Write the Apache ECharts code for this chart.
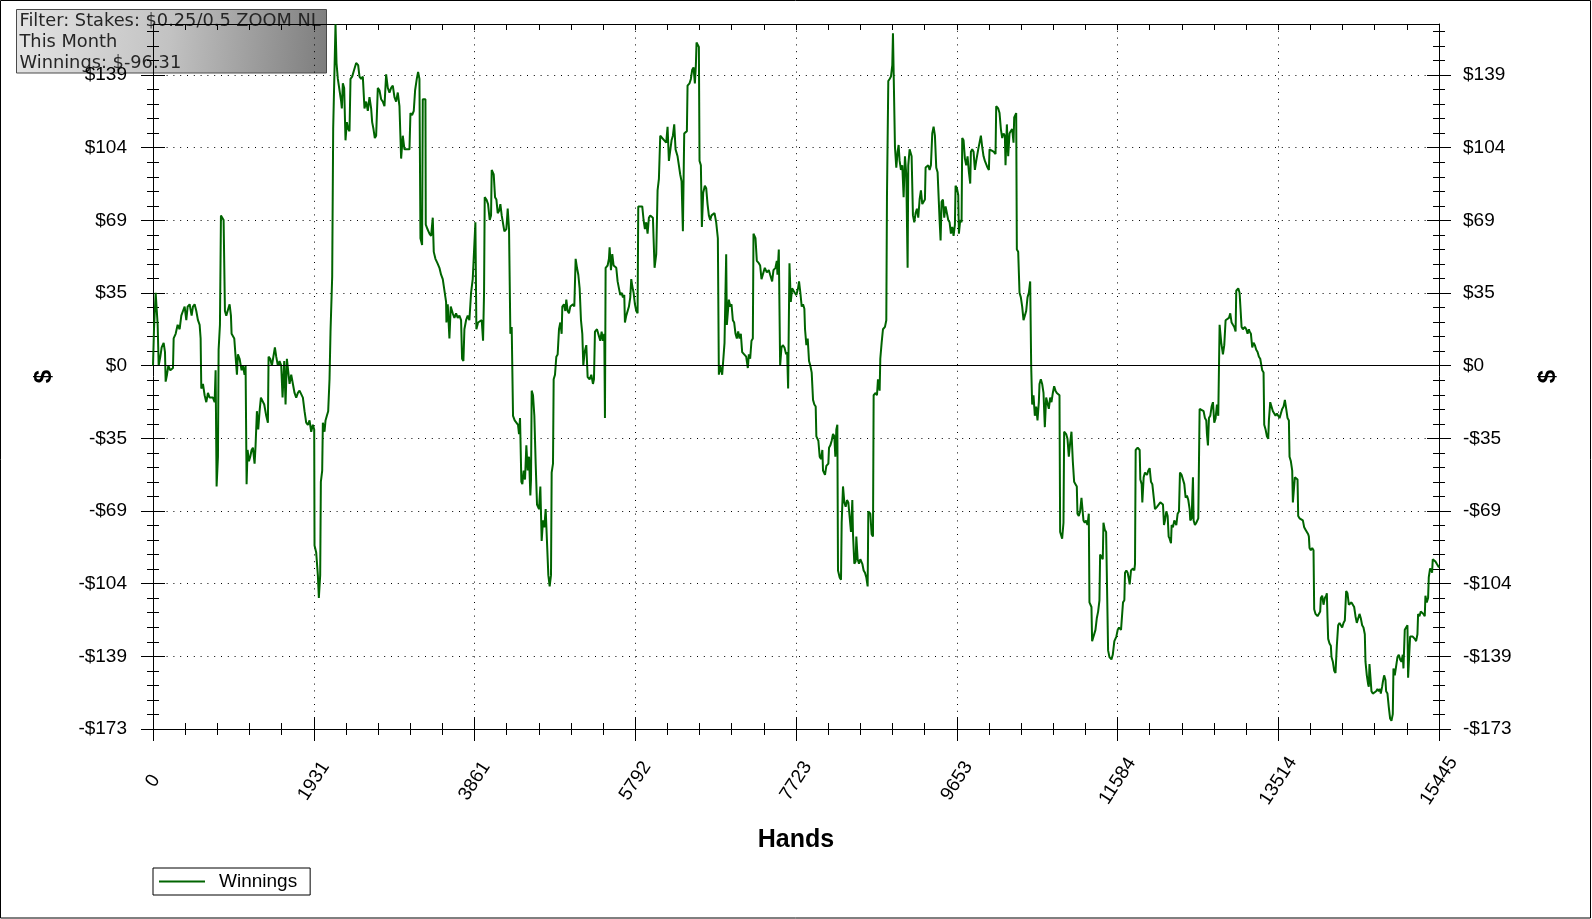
<!DOCTYPE html>
<html><head><meta charset="utf-8">
<script src="https://cdn.jsdelivr.net/npm/echarts@6/dist/echarts.min.js"></script>
<style>html,body{margin:0;padding:0;background:#fff}#c{width:1592px;height:919px}</style>
</head><body><div id="c"></div>
<script>
// Hands played (x) and cumulative winnings in $ (y)
const hands = [
0,12,32,48,56,68,88,104,128,144,
152,168,184,208,240,248,272,296,320,340,
360,380,400,416,440,464,480,500,520,540,
560,572,580,600,620,640,660,680,720,740,
752,764,780,788,804,816,832,848,864,880,
904,920,936,944,960,976,992,1008,1020,1040,
1064,1080,1100,1112,1124,1136,1152,1168,1184,1200,
1220,1232,1248,1264,1280,1296,1320,1336,1360,1380,
1388,1408,1428,1448,1464,1480,1500,1520,1540,1556,
1576,1592,1608,1624,1640,1660,1680,1700,1720,1740,
1760,1780,1800,1820,1840,1860,1880,1900,1920,1936,
1940,1960,1980,1992,2008,2016,2032,2040,2060,2072,
2088,2104,2120,2132,2152,2164,2184,2192,2204,2220,
2240,2260,2268,2280,2296,2312,2328,2344,2360,2372,
2392,2416,2440,2464,2480,2500,2520,2540,2560,2580,
2600,2620,2632,2648,2664,2680,2700,2720,2740,2760,
2780,2800,2820,2840,2860,2880,2900,2920,2940,2960,
2980,3000,3020,3040,3080,3092,3112,3132,3148,3168,
3184,3200,3212,3232,3240,3272,3276,3296,3320,3340,
3360,3372,3392,3416,3440,3460,3480,3500,3520,3524,
3540,3560,3576,3600,3620,3640,3660,3680,3700,3712,
3728,3740,3760,3780,3800,3820,3840,
3872,3884,3904,3924,3948,3964,3976,3984,4004,4024,
4044,4060,4068,4092,4108,4124,4140,4156,4172,4188,
4204,4220,4244,4260,4276,4292,4308,4324,4344,4364,
4384,4396,4408,4424,4436,4452,4468,4484,4500,4516,
4532,4540,4548,4564,4580,4596,4612,4636,4652,4668,
4684,4700,4716,4732,4748,4764,4780,4788,4804,4812,
4828,4844,4860,4876,4892,4908,4916,4936,4952,4964,
4980,4996,5012,5028,5044,5060,5076,5092,5108,5124,
5140,5156,5168,5184,5204,5220,5244,5264,5284,5296,
5308,5332,5356,5372,5388,5404,5420,5428,5436,5460,
5476,5484,5500,5516,5532,5548,5564,5580,5596,5612,
5628,5644,5660,5668,5684,5700,5716,5732,5744,5756,
5772,5788,5804,5820,5828,5852,5876,5892,5908,5924,
5940,5956,5972,6004,6012,6024,6044,6060,6076,6092,
6116,6140,6164,6180,6196,6212,6228,6244,6260,6276,
6300,6316,6332,6348,6364,6380,6412,6420,6444,6460,
6476,6492,6508,6520,6528,6556,6564,6580,6592,6608,
6628,6644,6660,6676,6692,6708,6724,6744,6764,6784,
6796,6812,6836,6852,6864,6884,6892,6916,6932,6948,
6964,6980,6996,7012,7028,7044,7060,7076,7100,7124,
7144,7156,7172,7188,7204,7212,7236,7252,7276,7292,
7308,7332,7348,7372,7396,7412,7436,7452,7476,7492,
7500,7516,7532,7548,7564,7584,7604,7616,7628,7644,
7660,7676,
7707,7727,7747,7759,7775,7791,7807,7823,7831,7847,
7863,7879,7895,7911,7927,7943,7959,7967,7991,8007,
8023,8039,8047,8071,8087,8111,8119,8135,8151,8167,
8183,8195,8207,8219,8227,8247,8263,8271,8287,8303,
8319,8335,8351,8367,8383,8399,8407,8423,8439,8447,
8463,8479,8495,8519,8535,8551,8567,8583,8591,8615,
8631,8647,8655,8679,8695,8707,8727,8735,8751,8767,
8791,8807,8815,8831,8847,8863,8879,8887,8899,8911,
8927,8943,8955,8967,8983,8999,9015,9031,9047,9063,
9071,9087,9111,9127,9143,9159,9175,9191,9207,9223,
9239,9255,9271,9279,9295,9311,9327,9343,9359,9375,
9391,9407,9423,9439,9447,9459,9471,9487,9503,9519,
9535,9551,9567,9583,9599,9615,9631,9639,9655,9671,
9679,9695,9711,9719,9735,9751,9767,9783,9799,9815,
9823,9839,9855,9871,9887,9911,9927,9943,9959,9975,
9991,10007,10023,10039,10047,10071,10095,10119,10127,10151,
10167,10183,10199,10215,10231,10239,10255,10271,10287,10303,
10319,10335,10343,10367,10375,10391,10407,10423,10439,10455,
10471,10487,10503,10519,10535,10547,10559,10575,10591,10607,
10623,10639,10647,10663,10679,10695,10711,10727,10743,10759,
10775,10791,10807,10823,10839,10855,10871,10887,10895,10919,
10935,10943,10967,10983,10999,11015,11031,11047,11063,11079,
11095,11103,11119,11135,11151,11167,11175,11191,11207,11223,
11239,11247,11271,11279,11303,11319,11335,11351,11367,11375,
11391,11407,11415,11431,11447,11463,11471,11487,11511,11527,
11546,11570,11586,11602,11626,11642,11650,11666,11674,11690,
11706,11722,11730,11746,11770,11786,11794,11802,11826,11850,
11858,11874,11882,11898,11914,11938,11954,11970,11986,12002,
12018,12034,12058,12082,12098,12114,12130,12142,12154,12170,
12186,12198,12210,12226,12234,12250,12266,12290,12306,12322,
12334,12354,12370,12386,12402,12418,12434,12450,12458,12474,
12490,12498,12514,12530,12554,12570,12594,12618,12634,12650,
12658,12670,12682,12698,12714,12730,12746,12762,12778,12794,
12802,12810,12830,12850,12866,12882,12906,12922,12938,12954,
12970,12986,13002,13010,13034,13050,13066,13074,13090,13114,
13130,13146,13162,13170,13186,13202,13218,13234,13250,13266,
13282,13298,13314,13322,13338,13346,13362,13378,13394,13402,
13418,13434,13450,13466,13482,13498,13514,13530,13546,13562,
13578,13594,13610,13626,13642,13650,13666,13682,13690,13706,
13714,13730,13746,13754,13770,13794,13810,13826,13842,13858,
13874,13882,13890,13906,13922,13938,13946,13962,13986,14002,
14018,14026,14042,14058,14074,14090,14098,14106,14114,14130,
14146,14154,14170,14186,14202,14218,14234,14250,14266,14282,
14298,14314,14330,14346,14362,14378,14394,14410,14426,14442,
14458,14474,14490,14506,14522,14538,14554,14562,14578,14594,
14602,14610,14626,14634,14650,14674,14690,14706,14722,14738,
14746,14762,14770,14786,14802,14810,14826,14842,14858,14874,
14890,14898,14914,14930,14946,14962,14978,14994,15010,15018,
15034,15050,15066,15074,15082,15098,15114,15130,15154,15170,
15186,15194,15210,15226,15242,15258,15274,15282,15298,15314,
15322,15338,15354,15362,15370,15386,15402,15418,15434,15445
];
const winnings = [
0,17.4,34.8,34.8,19.5,0,4.3,8.7,10.9,6.5,
-7.6,-4.3,0,-2.2,-1.1,13.0,15.2,19.5,17.4,23.9,
26.1,28.2,21.7,28.2,29.3,23.9,28.2,29.3,26.1,21.7,
19.5,13.0,-10.9,-8.7,-14.1,-17.4,-13.0,-15.2,-15.2,-17.4,
-2.2,-57.6,-43.4,7.6,19.5,71.7,71.7,69.5,26.1,23.9,
27.2,29.3,23.9,15.2,15.2,13.0,4.3,-4.3,5.4,3.3,
-2.2,0,-4.3,0,-56.5,-40.2,-45.6,-43.4,-40.2,-39.1,
-46.7,-38.0,-21.7,-30.4,-21.7,-15.2,-15.2,-18.5,-23.9,-27.2,
4.3,3.3,0,0,8.7,4.3,0,2.2,0,-15.2,
2.2,-18.5,3.3,3.3,-8.7,-4.3,-4.3,-13.0,-15.2,-13.0,
-11.9,-11.9,-15.2,-21.7,-27.2,-28.2,-26.1,-31.5,-28.2,-30.4,
-85.8,-89.1,-99.9,-110.8,-99.9,-55.4,-50.0,-27.2,-31.5,-26.1,
-23.9,-21.7,-6.5,16.3,42.4,112.9,112.9,162.9,144.4,136.8,
136.8,126.0,122.7,134.7,132.5,107.5,116.2,112.9,111.9,136.8,
137.9,141.2,144.4,143.4,137.9,136.8,137.9,122.7,126.0,121.6,
128.1,122.7,116.2,112.9,108.6,109.7,132.5,131.4,127.1,126.0,
123.8,139.0,132.5,130.3,132.5,133.6,128.1,126.0,130.3,123.8,
98.8,109.7,103.2,103.2,103.2,120.5,119.5,121.6,131.4,136.8,
140.1,136.8,60.8,57.6,127.1,127.1,67.3,65.2,63.0,61.9,
70.6,54.3,51.0,48.9,46.7,43.4,41.3,41.3,30.4,20.6,
29.3,13.0,28.2,25.0,22.8,25.0,22.8,23.9,21.7,3.3,
2.2,17.4,21.7,23.9,21.7,34.8,41.3,
68.4,17.4,20.6,20.6,21.7,11.9,34.8,80.4,79.3,77.1,
69.5,71.7,93.4,91.2,80.4,79.3,72.8,73.8,77.1,71.7,
71.7,64.1,65.2,74.9,65.2,15.2,18.5,-23.9,-26.1,-26.1,
-28.2,-32.6,-25.0,-55.4,-56.5,-50.0,-54.3,-38.0,-50.0,-43.4,
-61.9,-54.3,-11.9,-14.1,-23.9,-46.7,-66.2,-68.4,-57.6,-83.6,
-73.8,-77.1,-68.4,-68.4,-99.9,-105.3,-99.9,-51.0,-46.7,-6.5,
-4.3,4.3,5.4,17.4,20.6,15.2,28.2,29.3,26.1,31.5,
26.1,25.0,28.2,28.2,29.3,28.2,51.0,46.7,43.4,36.9,
21.7,15.2,0,6.5,9.8,-5.4,-6.5,-4.3,-8.7,-6.5,
16.3,17.4,14.1,11.9,16.3,11.9,15.2,-25.0,46.7,47.8,
51.0,56.5,45.6,53.2,47.8,47.8,46.7,40.2,36.9,33.7,
34.8,32.6,33.7,20.6,23.9,23.9,28.2,32.6,41.3,38.0,
34.8,29.3,26.1,25.0,76.0,76.0,76.0,69.5,65.2,68.4,
63.0,70.6,71.7,70.6,60.8,46.7,53.2,83.6,89.1,109.7,
109.7,107.5,106.4,114.0,97.7,97.7,107.5,109.7,115.1,103.2,
99.9,95.6,91.2,88.0,64.1,110.8,111.9,133.6,134.7,136.8,
141.2,142.3,134.7,143.4,154.2,152.0,97.7,95.6,66.2,82.5,
85.8,84.7,77.1,71.7,69.5,71.7,71.7,72.8,68.4,60.8,
-4.3,0,-4.3,-4.3,10.9,53.2,19.5,31.5,28.2,29.3,
21.7,20.6,15.2,13.0,16.3,13.0,15.2,6.5,5.4,4.3,
-1.1,5.4,3.3,11.9,13.0,63.0,60.8,50.0,48.9,47.8,
41.3,41.3,46.7,44.5,45.6,43.4,40.2,45.6,46.7,50.0,
43.4,55.4,0,8.7,9.8,8.7,5.4,6.5,-10.9,48.9,
30.4,36.9,
34.8,33.7,36.9,40.2,34.8,28.2,29.3,27.2,17.4,9.8,
13.0,2.2,0,-3.3,-16.3,-18.5,-19.5,-33.7,-35.8,-43.4,
-44.5,-40.2,-50.0,-52.1,-47.8,-46.7,-39.1,-38.0,-35.8,-32.6,
-33.7,-43.4,-30.4,-28.2,-97.7,-101.0,-102.1,-74.9,-57.6,-65.2,
-67.3,-64.1,-65.2,-65.2,-79.3,-64.1,-80.4,-94.5,-93.4,-81.5,
-92.3,-94.5,-92.3,-94.5,-97.7,-98.8,-101.0,-105.3,-69.5,-70.6,
-80.4,-81.5,-14.1,-13.0,-14.1,-6.5,-11.9,3.3,10.9,17.4,
18.5,21.7,80.4,135.8,136.8,137.9,143.4,158.6,158.6,104.3,
94.5,102.1,105.3,97.7,93.4,95.6,80.4,99.9,91.2,46.7,
95.6,103.2,99.9,71.7,68.4,72.8,74.9,70.6,79.3,83.6,
77.1,78.2,79.3,94.5,94.5,95.6,93.4,95.6,110.8,114.0,
109.7,94.5,92.3,92.3,69.5,59.7,78.2,79.3,70.6,76.0,
72.8,69.5,68.4,63.0,66.2,61.9,67.3,85.8,84.7,81.5,
63.0,69.5,68.4,108.6,107.5,98.8,95.6,99.9,92.3,86.9,
102.1,103.2,102.1,93.4,97.7,103.2,106.4,109.7,104.3,99.9,
97.7,97.7,94.5,93.4,103.2,103.2,102.1,101.0,123.8,122.7,
120.5,112.9,108.6,110.8,109.7,95.6,115.1,99.9,110.8,111.9,
112.9,106.4,118.4,120.5,55.4,54.3,34.8,32.6,28.2,21.7,
23.9,26.1,32.6,34.8,40.2,0,-18.5,-14.1,-23.9,-19.5,
-26.1,-17.4,-8.7,-6.5,-8.7,-13.0,-29.3,-15.2,-15.2,-20.6,
-15.2,-17.4,-13.0,-9.8,-11.9,-13.0,-13.0,-14.1,-79.3,-82.5,
-74.9,-31.5,-32.6,-34.8,-43.4,-36.9,-31.5,-45.6,-55.4,-56.5,
-57.6,-70.6,-71.7,-69.5,-63.0,-63.0,-73.8,-74.9,-73.8,-76.0,
-70.6,-112.9,-115.1,-131.4,-131.4,-126.0,-120.5,-117.3,-111.9,-90.1,
-91.2,-92.3,-74.9,-78.2,-79.3,-79.3,-135.8,-139.0,-140.1,-137.9,
-131.4,-129.2,-126.0,-124.9,-126.0,-126.0,-112.9,-111.9,-98.8,-97.7,
-98.8,-102.1,-104.3,-97.7,-96.7,-97.7,-94.5,-40.2,-39.1,-40.2,
-54.3,-56.5,-65.2,-53.2,-51.0,-52.1,-50.0,-48.9,-55.4,-56.5,
-56.5,-68.4,-67.3,-67.3,-65.2,-65.2,-66.2,-76.0,-73.8,-69.5,
-71.7,-81.5,-82.5,-84.7,-76.0,-77.1,-73.8,-76.0,-70.6,-69.5,
-51.0,-52.1,-54.3,-56.5,-63.0,-61.9,-64.1,-68.4,-73.8,-72.8,
-53.2,-73.8,-76.0,-74.9,-72.8,-20.6,-20.6,-21.7,-25.0,-26.1,
-32.6,-38.0,-25.0,-23.9,-19.5,-17.4,-27.2,-25.0,-18.5,-23.9,
-23.9,19.5,10.9,5.4,9.8,21.7,21.7,22.8,25.0,20.6,
19.5,18.5,16.3,35.8,36.9,34.8,34.8,18.5,17.4,18.5,
17.4,15.2,17.4,16.3,15.2,8.7,10.9,9.8,7.6,6.5,
4.3,3.3,3.3,-2.2,-3.3,-28.2,-30.4,-33.7,-34.8,-26.1,
-17.4,-17.4,-21.7,-22.8,-23.9,-22.8,-22.8,-25.0,-22.8,-20.6,
-19.5,-16.3,-20.6,-25.0,-26.1,-43.4,-45.6,-50.0,-65.2,-65.2,
-53.2,-53.2,-54.3,-71.7,-72.8,-72.8,-73.8,-77.1,-78.2,-79.3,
-80.4,-81.5,-86.9,-88.0,-86.9,-88.0,-116.2,-118.4,-119.5,-118.4,
-117.3,-110.8,-109.7,-114.0,-110.8,-109.7,-108.6,-120.5,-130.3,-132.5,
-133.6,-139.0,-141.2,-145.5,-146.6,-133.6,-123.8,-122.7,-123.8,-124.9,
-122.7,-121.6,-107.5,-108.6,-114.0,-114.0,-112.9,-114.0,-115.1,-119.5,
-122.7,-122.7,-118.4,-120.5,-123.8,-124.9,-128.1,-141.2,-147.7,-152.0,
-153.1,-142.3,-142.3,-155.3,-156.4,-156.4,-155.3,-154.2,-155.3,-154.2,
-156.4,-153.1,-151.0,-147.7,-149.9,-155.3,-156.4,-162.9,-168.3,-169.4,
-166.2,-144.4,-147.7,-147.7,-139.0,-137.9,-140.1,-141.2,-137.9,-144.4,
-126.0,-124.9,-123.8,-148.8,-148.8,-129.2,-129.2,-129.2,-130.3,-131.4,
-128.1,-118.4,-119.5,-117.3,-117.3,-118.4,-119.5,-109.7,-112.9,-110.8,
-101.0,-96.7,-97.7,-98.8,-92.3,-92.3,-93.4,-94.5,-94.5,-96.3
];
const xTickLabels = ['0','1931','3861','5792','7723','9653','11584','13514','15445'];
const yTickLabels = ['-$173','-$139','-$104','-$69','-$35','$0','$35','$69','$104','$139'];
const seriesName = 'Winnings';
const infoLines = ['Filter: Stakes: $0.25/0.5 ZOOM NL', 'This Month', 'Winnings: $-96.31'];

const X_MAX = 15445, X_STEP = X_MAX / 8;
const Y_STEP = 34.66, Y_MIN = -5 * Y_STEP, Y_MAX = 163;
const yMajorVals = yTickLabels.map((_, i) => Y_MIN + i * Y_STEP);

const chart = echarts.init(document.getElementById('c'), null, {renderer: 'canvas'});
const BLK = '#000';
const FONT = 'Liberation Sans';

function xBase(extra) {
  return Object.assign({
    type: 'value', min: 0, max: X_MAX, interval: X_STEP,
    axisLine: {show: false, onZero: false, lineStyle: {color: BLK, width: 1}},
    axisTick: {show: true, inside: false, length: 12, lineStyle: {color: BLK, width: 1}},
    minorTick: {show: true, splitNumber: 5, length: 6, lineStyle: {color: BLK, width: 1}},
    axisLabel: {show: false},
    splitLine: {show: false},
    minorSplitLine: {show: false}
  }, extra);
}
function yBase(extra) {
  return Object.assign({
    type: 'value', min: Y_MIN, max: Y_MAX, interval: Y_STEP,
    axisLine: {show: false, onZero: false, lineStyle: {color: BLK, width: 1}},
    axisTick: {show: true, inside: false, length: 12, customValues: yMajorVals, lineStyle: {color: BLK, width: 1}},
    minorTick: {show: true, splitNumber: 5, length: 6, lineStyle: {color: BLK, width: 1}},
    axisLabel: {show: false},
    splitLine: {show: false},
    minorSplitLine: {show: false}
  }, extra);
}
const yLabelFmt = (v, i) => yTickLabels[i] !== undefined && Math.abs(v - yMajorVals[i]) < 0.5 ? yTickLabels[i] : '';

const option = {
  animation: false,
  backgroundColor: '#fff',
  grid: {left: 153, right: 153, top: 24, bottom: 190},
  xAxis: [
    xBase({
      position: 'bottom',
      axisLine: {show: true, onZero: false, lineStyle: {color: BLK, width: 1}},
      axisLabel: {show: true, rotate: 57, align: 'center', verticalAlign: 'middle', margin: 52,
        color: BLK, fontFamily: FONT, fontSize: 19,
        formatter: (v, i) => xTickLabels[i] !== undefined ? xTickLabels[i] : ''},
      splitLine: {show: true, lineStyle: {color: BLK, width: 1, type: [1, 5.8]}},
      name: 'Hands', nameLocation: 'middle', nameGap: 99,
      nameTextStyle: {fontFamily: FONT, fontWeight: 'bold', fontSize: 25, color: BLK}
    }),
    xBase({position: 'bottom', axisTick: {show: true, inside: true, length: 12, lineStyle: {color: BLK, width: 1}}}),
    xBase({position: 'top', axisLine: {show: true, onZero: false, lineStyle: {color: BLK, width: 1}},
      axisTick: {show: true, inside: true, length: 6, lineStyle: {color: BLK, width: 1}}})
  ],
  yAxis: [
    yBase({
      position: 'left',
      axisLine: {show: true, onZero: false, lineStyle: {color: BLK, width: 1}},
      axisLabel: {show: true, margin: 26, color: BLK, fontFamily: FONT, fontSize: 19, formatter: yLabelFmt},
      splitLine: {show: true, lineStyle: {color: BLK, width: 1, type: [1, 5.8]}},
      name: '$', nameLocation: 'middle', nameGap: 97, nameRotate: 90,
      nameTextStyle: {fontFamily: FONT, fontWeight: 'bold', fontSize: 24, color: BLK}
    }),
    yBase({position: 'left', axisTick: {show: true, inside: true, length: 12, customValues: yMajorVals, lineStyle: {color: BLK, width: 1}}}),
    yBase({
      position: 'right',
      axisLine: {show: true, onZero: false, lineStyle: {color: BLK, width: 1}},
      axisLabel: {show: true, margin: 24, color: BLK, fontFamily: FONT, fontSize: 19, formatter: yLabelFmt},
      name: '$', nameLocation: 'middle', nameGap: 97, nameRotate: 90,
      nameTextStyle: {fontFamily: FONT, fontWeight: 'bold', fontSize: 24, color: BLK}
    }),
    yBase({position: 'right', axisTick: {show: true, inside: true, length: 12, customValues: yMajorVals, lineStyle: {color: BLK, width: 1}}})
  ],
  legend: {
    show: true, data: [seriesName], left: 153, top: 868, orient: 'horizontal',
    icon: 'rect', itemWidth: 46, itemHeight: 2, padding: [4, 13, 4, 6],
    borderColor: BLK, borderWidth: 1, backgroundColor: '#fff',
    textStyle: {fontFamily: FONT, fontSize: 19, color: BLK, padding: [0, 0, 0, 9]}
  },
  series: [{
    name: seriesName, type: 'line', xAxisIndex: 0, yAxisIndex: 0,
    data: hands.map((h, i) => [h, winnings[i]]),
    symbol: 'none', showSymbol: false,
    lineStyle: {color: '#006400', width: 2},
    itemStyle: {color: '#006400'},
    markLine: {
      silent: true, symbol: ['none', 'none'], label: {show: false},
      lineStyle: {color: BLK, type: 'solid', width: 1},
      emphasis: {disabled: true},
      data: [{yAxis: 0}]
    },
    z: 3
  }],
  graphic: [
    {type: 'rect', silent: true, z: 200, shape: {x: 0.5, y: 0.5, width: 1590, height: 917.5},
      style: {fill: 'none', stroke: BLK, lineWidth: 1}},
    {type: 'group', left: 16, top: 9, z: 300, children: [
      {type: 'rect', shape: {x: 0, y: 0, width: 310, height: 63.5},
        style: {fill: {type: 'linear', x: 0, y: 0, x2: 1, y2: 0.4,
          colorStops: [{offset: 0, color: '#e4e4e4'}, {offset: 0.5, color: '#c2c2c2'}, {offset: 1, color: '#7e7e7e'}]},
          stroke: '#4a4a4a', lineWidth: 1}},
      {type: 'text', x: 3, y: 1.5, style: {text: infoLines.join('\n'), font: '17.8px "DejaVu Sans"',
        lineHeight: 20.8, fill: '#262626'}}
    ]}
  ]
};
chart.setOption(option);
</script></body></html>
